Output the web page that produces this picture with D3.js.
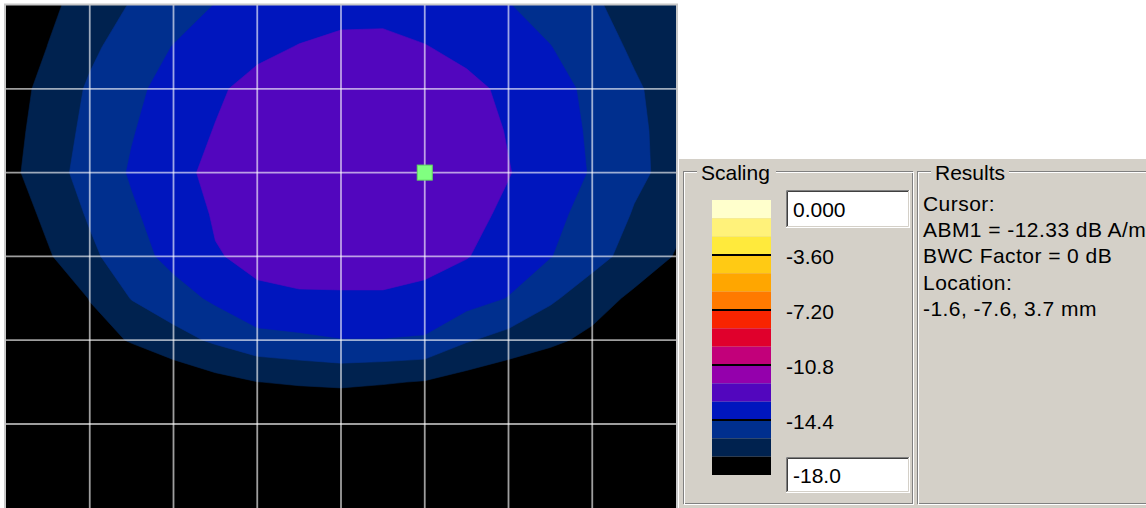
<!DOCTYPE html>
<html>
<head>
<meta charset="utf-8">
<script src="https://cdn.jsdelivr.net/npm/d3@7"></script>
<style>
  html, body { margin: 0; padding: 0; background: #fff; overflow: hidden; }
  svg { display: block; }
  text { font-family: "Liberation Sans", Arial, sans-serif; font-size: 21px; fill: #000; }
</style>
</head>
<body>
<svg id="chart" width="1146" height="508"></svg>
<script>
// Measured field (dB A/m) on a 17 x 13 lattice, one array per row, top to bottom.
const row00 = [-17.85,-17.06,-16.28,-15.52,-14.94,-14.37,-14.12,-13.84,-13.57,-13.59,-13.85,-14.10,-14.36,-14.88,-15.45,-16.00,-16.40];
const row01 = [-17.73,-16.78,-15.83,-15.05,-14.36,-13.96,-13.50,-13.15,-12.95,-12.90,-13.15,-13.54,-13.96,-14.37,-15.08,-15.77,-16.20];
const row02 = [-17.42,-16.42,-15.45,-14.66,-13.99,-13.39,-12.80,-12.65,-12.57,-12.55,-12.62,-12.89,-13.45,-14.01,-14.64,-15.45,-16.10];
const row03 = [-17.30,-16.25,-15.29,-14.47,-13.80,-13.15,-12.65,-12.40,-12.30,-12.25,-12.30,-12.60,-13.28,-13.90,-14.55,-15.38,-16.00];
const row04 = [-17.19,-16.10,-15.13,-14.29,-13.58,-12.89,-12.55,-12.35,-12.25,-12.22,-12.33,-12.65,-13.15,-13.81,-14.49,-15.37,-15.95];
const row05 = [-17.60,-16.52,-15.46,-14.56,-13.81,-13.10,-12.75,-12.50,-12.40,-12.40,-12.55,-12.85,-13.43,-14.08,-14.83,-15.68,-16.50];
const row06 = [-18.00,-16.93,-15.86,-14.88,-14.04,-13.26,-13.00,-12.85,-12.80,-12.80,-12.95,-13.15,-13.73,-14.36,-15.19,-16.04,-16.88];
const row07 = [-18.50,-17.94,-16.75,-15.55,-14.90,-14.19,-13.36,-13.30,-13.30,-13.30,-13.40,-13.92,-14.45,-15.41,-16.24,-17.05,-17.80];
const row08 = [-18.50,-18.03,-17.37,-16.69,-16.02,-15.42,-14.84,-14.65,-14.45,-14.45,-14.55,-15.50,-16.04,-16.55,-17.10,-17.70,-18.30];
const row09 = [-19.20,-19.00,-18.60,-18.20,-17.70,-17.20,-16.82,-16.65,-16.55,-16.70,-16.88,-17.30,-17.70,-18.00,-18.30,-18.60,-18.90];
const row10 = [-19.60,-19.50,-19.30,-19.10,-18.90,-18.70,-18.50,-18.40,-18.35,-18.40,-18.50,-18.60,-18.80,-19.00,-19.20,-19.40,-19.60];
const row11 = [-20.00,-19.90,-19.80,-19.60,-19.40,-19.30,-19.20,-19.10,-19.00,-19.10,-19.20,-19.30,-19.40,-19.60,-19.80,-19.90,-20.00];
const row12 = [-20.40,-20.30,-20.20,-20.10,-20.00,-19.90,-19.80,-19.70,-19.60,-19.70,-19.80,-19.90,-20.00,-20.10,-20.20,-20.30,-20.40];

// Colour scale: 15 bands of 1.2 dB from 0.000 down to -18.0 (top band first)
const scaleTop = 0;
const scaleBottom = -18;
const bandStep = 1.2;
const bandColors = ["#FFFFCC","#FFF27A","#FFEA3C","#FFCA14","#FFA600","#FF7A00","#F82400",
                    "#E0002C","#C2007A","#9400AC","#5206BE","#0016BE","#002F8E","#00224F","#000000"];
const scaleTopLabel = "0.000";
const scaleBottomLabel = "-18.0";
const tickValues = [-3.6, -7.2, -10.8, -14.4];
const tickLabels = ["-3.60", "-7.20", "-10.8", "-14.4"];

// Cursor probe
const cursorCol = 10, cursorRow = 4;
const cursorValue = -12.33;
const bwcFactor = 0;
const cursorLocation = [-1.6, -7.6, 3.7];

const rows = [row00,row01,row02,row03,row04,row05,row06,row07,row08,row09,row10,row11,row12];
const nx = rows[0].length, ny = rows.length;
const values = rows.flat();

const svg = d3.select("#chart");
const W = 1146, H = 508;

// ---------- map ----------
const mapX0 = 6, mapX1 = 676, mapY0 = 5, mapY1 = 507.8;
const xs = d3.scaleLinear().domain([0.5, nx - 0.5]).range([mapX0, mapX1]);
const ys = d3.scaleLinear().domain([0.5, ny - 0.5]).range([mapY0, mapY1]);

svg.append("defs").append("clipPath").attr("id", "mapClip")
  .append("rect").attr("x", mapX0).attr("y", mapY0)
  .attr("width", mapX1 - mapX0).attr("height", H - mapY0);

const map = svg.append("g").attr("clip-path", "url(#mapClip)");
map.append("rect").attr("x", mapX0).attr("y", mapY0)
  .attr("width", mapX1 - mapX0).attr("height", H - mapY0).attr("fill", "#000");

const edges = d3.range(bandColors.length + 1).map(i => +(scaleTop - i * bandStep).toFixed(1));
// band i spans edges[i] .. edges[i+1]; fill regions above each lower edge, lowest first
const levels = edges.slice(1).slice().reverse();
const colorOfLevel = new Map(edges.slice(1).map((e, i) => [e, bandColors[i]]));

const contours = d3.contours().size([nx, ny]).thresholds(levels)(values);
const proj = d3.geoTransform({
  point(px, py) { this.stream.point(xs(px), ys(py)); }
});
const path = d3.geoPath(proj);

map.selectAll("path.band").data(contours).join("path")
  .attr("class", "band")
  .attr("d", path)
  .attr("fill", d => colorOfLevel.get(d.value))
  .attr("stroke", d => colorOfLevel.get(d.value))
  .attr("stroke-width", 0.6);

// grid every second lattice node
const gridCols = d3.range(2, nx - 1, 2);
const gridRows = d3.range(2, ny - 1, 2);
const grid = svg.append("g").attr("stroke", "#fff").attr("stroke-opacity", 0.62).attr("stroke-width", 1.8);
grid.selectAll("line.v").data(gridCols).join("line").attr("class", "v")
  .attr("x1", c => xs(c + 0.5)).attr("x2", c => xs(c + 0.5))
  .attr("y1", mapY0).attr("y2", H);
grid.selectAll("line.h").data(gridRows).join("line").attr("class", "h")
  .attr("y1", r => ys(r + 0.5)).attr("y2", r => ys(r + 0.5))
  .attr("x1", mapX0).attr("x2", mapX1);

// frame
svg.append("rect").attr("x", mapX0 - 1).attr("y", mapY0 - 0.5)
  .attr("width", mapX1 - mapX0 + 2).attr("height", H + 10)
  .attr("fill", "none").attr("stroke", "#c8c8c8").attr("stroke-width", 2);

// cursor marker
const cs = 15;
svg.append("rect")
  .attr("x", xs(cursorCol + 0.5) - cs / 2).attr("y", ys(cursorRow + 0.5) - cs / 2)
  .attr("width", cs).attr("height", cs)
  .attr("fill", "#80FF80").attr("stroke", "#62DA62").attr("stroke-width", 1);

// ---------- control panel ----------
const face = "#D4D0C8";
svg.append("rect").attr("x", 679).attr("y", 159).attr("width", W - 679).attr("height", H - 159).attr("fill", face);

function groupBox(x0, y0, x1, y1, label, labelX, labelW) {
  const g = svg.append("g");
  g.append("rect").attr("x", x0 + 0.5).attr("y", y0 + 0.5).attr("width", x1 - x0 - 2).attr("height", y1 - y0 - 2)
    .attr("fill", "none").attr("stroke", "#808080");
  g.append("rect").attr("x", x0 + 1.5).attr("y", y0 + 1.5).attr("width", x1 - x0 - 2).attr("height", y1 - y0 - 2)
    .attr("fill", "none").attr("stroke", "#fff");
  g.append("rect").attr("x", labelX - 4).attr("y", y0 - 8).attr("width", labelW + 8).attr("height", 16).attr("fill", face);
  g.append("text").attr("x", labelX).attr("y", y0 + 9).text(label);
}
groupBox(683, 171, 914, 505, "Scaling", 701, 71);
groupBox(917, 171, 1160, 505, "Results", 935, 70);

// colour bar
const barX = 712, barW = 59;
const ls = d3.scaleLinear().domain([scaleTop, scaleBottom]).range([200, 475]);
const bands = bandColors.map((c, i) => ({ hi: edges[i], lo: edges[i + 1], color: c }));
svg.append("g").selectAll("rect").data(bands).join("rect")
  .attr("x", barX).attr("width", barW)
  .attr("y", d => ls(d.hi)).attr("height", d => ls(d.lo) - ls(d.hi))
  .attr("fill", d => d.color);
svg.append("g").selectAll("line").data(tickValues).join("line")
  .attr("x1", barX).attr("x2", barX + barW)
  .attr("y1", d => ls(d)).attr("y2", d => ls(d))
  .attr("stroke", "#000").attr("stroke-width", 2);
svg.append("g").selectAll("text").data(tickValues).join("text")
  .attr("x", 786).attr("y", d => ls(d) + 9)
  .text((d, i) => tickLabels[i]);

// sunken edit fields for the scale limits
function editBox(x, y, w, h, label) {
  const g = svg.append("g");
  g.append("rect").attr("x", x).attr("y", y).attr("width", w).attr("height", h).attr("fill", "#fff");
  g.append("path").attr("d", `M${x + 0.5},${y + h}V${y + 0.5}H${x + w}`).attr("fill", "none").attr("stroke", "#808080");
  g.append("path").attr("d", `M${x + 1.5},${y + h - 1}V${y + 1.5}H${x + w - 1}`).attr("fill", "none").attr("stroke", "#404040");
  g.append("path").attr("d", `M${x},${y + h - 0.5}H${x + w - 0.5}V${y}`).attr("fill", "none").attr("stroke", "#fff");
  g.append("path").attr("d", `M${x + 1},${y + h - 1.5}H${x + w - 1.5}V${y + 1}`).attr("fill", "none").attr("stroke", face);
  g.append("text").attr("x", x + 7).attr("y", y + h / 2 + 7.5).text(label);
}
editBox(786, 190, 124, 38, scaleTopLabel);
editBox(786, 457, 124, 36, scaleBottomLabel);

// results read-out
const resultLines = [
  "Cursor:",
  `ABM1 = ${cursorValue.toFixed(2)} dB A/m`,
  `BWC Factor = ${bwcFactor} dB`,
  "Location:",
  `${cursorLocation.map(v => v.toFixed(1)).join(", ")} mm`
];
svg.append("g").selectAll("text").data(resultLines).join("text")
  .attr("x", 923).attr("y", (d, i) => 211 + i * 26.2)
  .attr("letter-spacing", 0.45)
  .text(d => d);
</script>
</body>
</html>
